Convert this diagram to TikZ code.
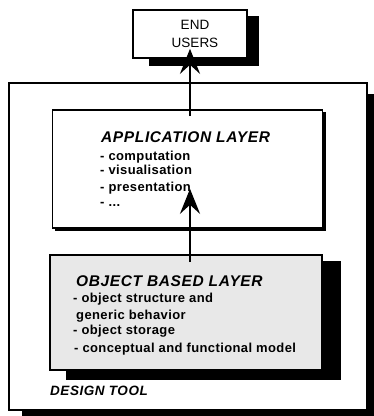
\documentclass[tikz,border=0pt]{standalone}
\usepackage{fontspec}
\setmainfont{Liberation Sans}
\newfontfamily\ttlfont[LetterSpace=4]{Liberation Sans}
\newfontfamily\itemfont[LetterSpace=3]{Liberation Sans}
\newfontfamily\tagfont[LetterSpace=4]{Liberation Sans}
\usetikzlibrary{arrows.meta,calc}
\begin{document}
\begin{tikzpicture}[x=1pt,y=-1pt,
  layerbox/.style={draw,line width=1.6pt,fill=white,inner sep=0pt},
  shadowfill/.style={fill=black},
  ttl/.style={anchor=base west,inner sep=0pt,font=\ttlfont\fontsize{15.5}{17}\selectfont\bfseries\itshape},
  itm/.style={anchor=base west,inner sep=0pt,font=\itemfont\fontsize{13}{14}\selectfont\bfseries},
  tag/.style={anchor=base west,inner sep=0pt,font=\tagfont\fontsize{13.5}{15}\selectfont\bfseries\itshape},
  usr/.style={anchor=base,inner sep=0pt,font=\fontsize{13.5}{15}\selectfont},
  arr/.style={line width=2.8pt,-{Stealth[length=25pt,width=20pt,inset=9pt]}}]
\useasboundingbox (0,0) rectangle (374,416);

% outer frame of the design tool
\node[layerbox,minimum width=358pt,minimum height=327pt] (design) at (188,246.5) {};
\fill[shadowfill] ([xshift=14pt,yshift=-12pt]design.north west) rectangle ([xshift=7pt,yshift=-6pt]design.south east);
\node[layerbox,minimum width=358pt,minimum height=327pt] at (design.center) {};

% end users box
\node[layerbox,minimum width=114pt,minimum height=48pt] (endusers) at (190,34) {};
\fill[shadowfill] ([xshift=17pt,yshift=-7pt]endusers.north west) rectangle ([xshift=11pt,yshift=-7pt]endusers.south east);
\node[layerbox,minimum width=114pt,minimum height=48pt] at (endusers.center) {};
\node[usr] (enda) at (195,29.5) {END};
\node[usr] (endb) at (195,47.5) {USERS};

% application layer
\node[layerbox,minimum width=270pt,minimum height=118pt] (applayer) at (187.5,169) {};
\fill[shadowfill] ([xshift=3pt,yshift=-3pt]applayer.north west) rectangle ([xshift=2.5pt,yshift=-2.5pt]applayer.south east);
\node[layerbox,minimum width=270pt,minimum height=118pt] at (applayer.center) {};
\node[ttl] (apptitle) at (101,142) {APPLICATION LAYER};
\node[itm] (app1) at (100,160) {- computation};
\node[itm] (app2) at (100,174.5) {- visualisation};
\node[itm] (app3) at (100,191) {- presentation};
\node[itm] (app4) at (100,206) {- ...};

% object based layer
\node[layerbox,minimum width=272pt,minimum height=115pt] (objlayer) at (186,312.5) {};
\fill[shadowfill] ([xshift=17pt,yshift=-7pt]objlayer.north west) rectangle ([xshift=18pt,yshift=-9pt]objlayer.south east);
\node[layerbox,fill=black!9,minimum width=272pt,minimum height=115pt] at (objlayer.center) {};
\node[ttl] (objtitle) at (76,286) {OBJECT BASED LAYER};
\node[itm] (obj1) at (73,302) {- object structure and};
\node[itm] (obj2) at (76,319) {generic behavior};
\node[itm] (obj3) at (73,334) {- object storage};
\node[itm] (obj4) at (74,352) {- conceptual and functional model};

\node[tag] (designtag) at (50,395) {DESIGN TOOL};

% information flow between the layers
\draw[arr] ([yshift=-8pt]endusers.south |- objlayer.north) -- ([yshift=40pt]endusers.south |- applayer.south);
\draw[arr] ([yshift=-7pt]endusers.south |- applayer.north) -- ([yshift=10pt]endusers.south);
\end{tikzpicture}
\end{document}
